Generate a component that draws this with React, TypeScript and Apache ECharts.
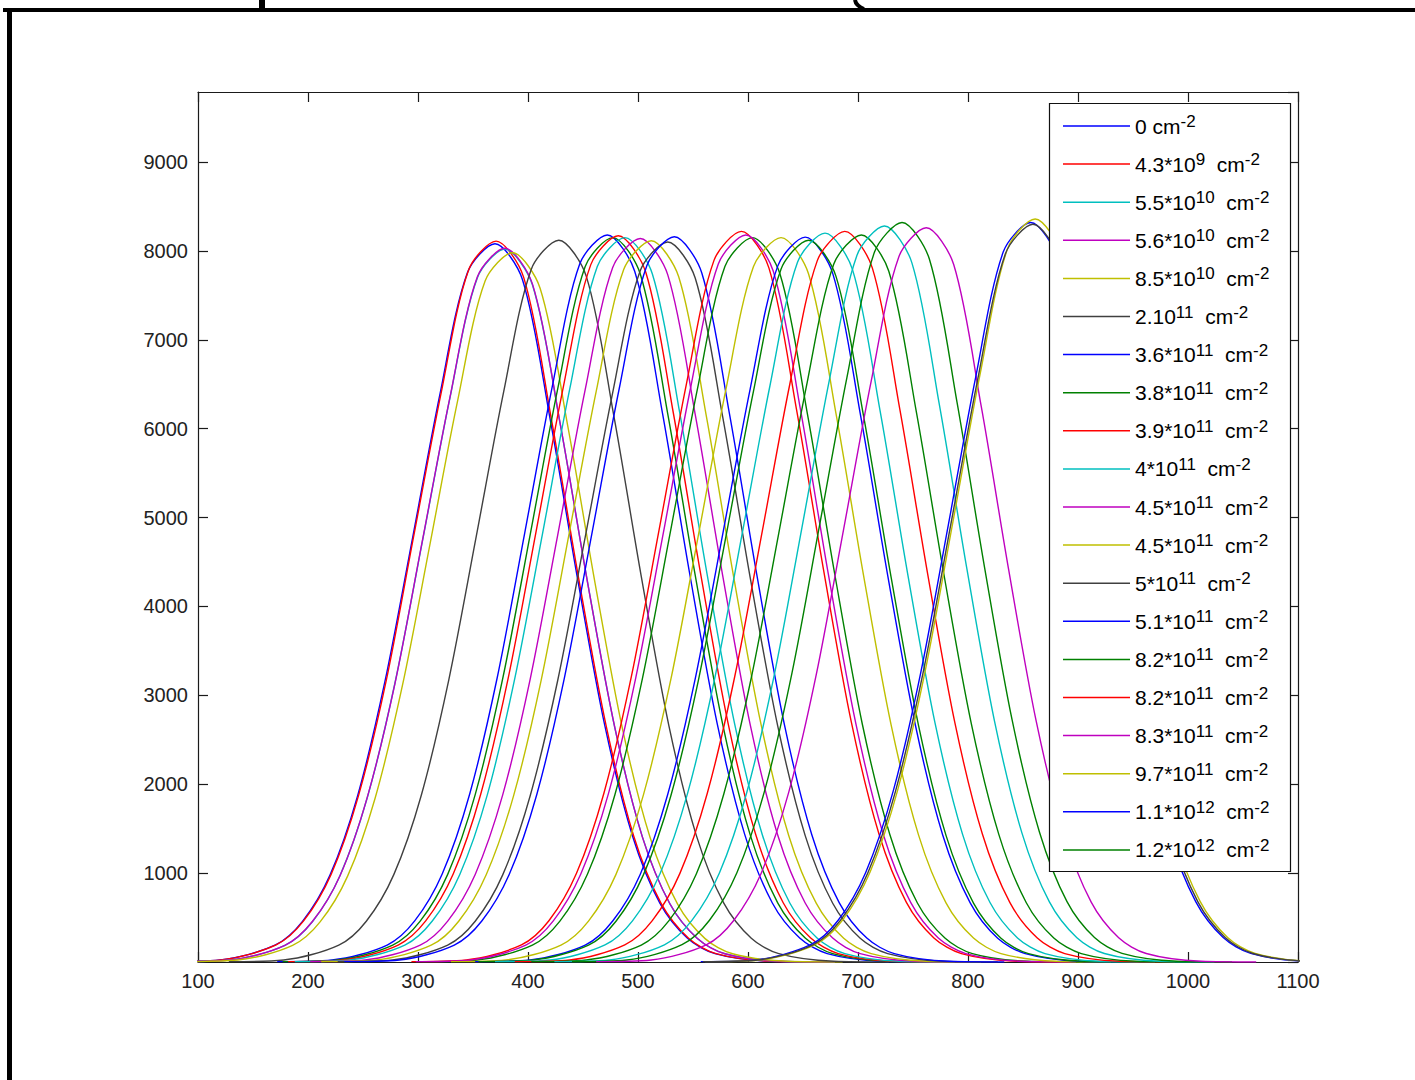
import React, { useEffect, useRef } from "react";
import * as echarts from "echarts";

// x offsets (in channel units) around each curve's peak position
const X_OFFSETS = [-300, -250, -200, -175, -150, -125, -100, -75, -50, -25, 0, 25, 50, 75, 100, 125, 150, 175, 200, 250, 300];

// peak positions (x units)
const PEAK_X = [370, 371, 379, 379, 386, 428, 472, 477, 482, 488, 502, 512, 527, 533, 604, 594, 598, 630, 652, 655, 670, 688, 703, 724, 740, 762, 857, 861, 859];

const LINE_COLORS = [
  "#0000ff", "#ff0000", "#00bfbf", "#bf00bf", "#bfbf00", "#404040", "#0000ff", "#008000", "#ff0000", "#00bfbf",
  "#bf00bf", "#bfbf00", "#404040", "#0000ff", "#008000", "#ff0000", "#bf00bf", "#bfbf00", "#0000ff", "#008000",
  "#00bfbf", "#ff0000", "#008000", "#00bfbf", "#008000", "#bf00bf", "#0000ff", "#bfbf00", "#404040",
];

const LEGEND_BASE = ["0", "4.3*10", "5.5*10", "5.6*10", "8.5*10", "2.10", "3.6*10", "3.8*10", "3.9*10", "4*10", "4.5*10", "4.5*10", "5*10", "5.1*10", "8.2*10", "8.2*10", "8.3*10", "9.7*10", "1.1*10", "1.2*10"];
const LEGEND_EXP = ["", "9", "10", "10", "10", "11", "11", "11", "11", "11", "11", "11", "11", "11", "11", "11", "11", "11", "12", "12"];

const S01 = [4, 23, 189, 457, 978, 1866, 3159, 4767, 6391, 7757, 8080, 7676, 6117, 4315, 2650, 1418, 659, 267, 94, 8, 0];
const S02 = [4, 24, 192, 462, 985, 1875, 3160, 4785, 6400, 7786, 8110, 7705, 6125, 4320, 2660, 1420, 660, 268, 94, 8, 0];
const S03 = [4, 22, 188, 453, 970, 1853, 3136, 4732, 6344, 7699, 8020, 7619, 6071, 4283, 2631, 1408, 654, 265, 93, 8, 0];
const S04 = [4, 22, 187, 455, 968, 1858, 3130, 4740, 6350, 7709, 8030, 7629, 6075, 4280, 2635, 1405, 655, 264, 93, 8, 0];
const S05 = [4, 22, 187, 451, 966, 1843, 3120, 4708, 6312, 7661, 7980, 7581, 6041, 4261, 2617, 1400, 651, 263, 93, 8, 0];
const S06 = [4, 23, 190, 459, 983, 1876, 3175, 4791, 6423, 7795, 8120, 7714, 6147, 4336, 2663, 1425, 663, 268, 94, 8, 0];
const S07 = [4, 23, 191, 462, 990, 1890, 3198, 4826, 6470, 7853, 8180, 7771, 6192, 4368, 2683, 1436, 667, 270, 95, 8, 0];
const S08 = [4, 23, 191, 460, 986, 1883, 3187, 4809, 6447, 7824, 8150, 7743, 6170, 4352, 2673, 1430, 665, 269, 95, 8, 0];
const S09 = [4, 23, 191, 462, 989, 1887, 3194, 4820, 6462, 7843, 8170, 7762, 6185, 4363, 2680, 1434, 667, 270, 95, 8, 0];
const S10 = [4, 23, 190, 461, 985, 1880, 3190, 4805, 6450, 7824, 8150, 7743, 6175, 4350, 2670, 1432, 664, 268, 95, 8, 0];
const S11 = [4, 23, 190, 460, 985, 1880, 3183, 4803, 6439, 7814, 8140, 7733, 6162, 4347, 2670, 1429, 664, 269, 94, 8, 0];
const S12 = [4, 23, 189, 458, 982, 1874, 3172, 4795, 6420, 7790, 8115, 7709, 6150, 4330, 2665, 1424, 662, 267, 94, 8, 0];
const S13 = [4, 23, 190, 458, 980, 1871, 3167, 4779, 6407, 7776, 8100, 7695, 6132, 4325, 2657, 1422, 661, 267, 94, 8, 0];
const S14 = [4, 23, 191, 461, 987, 1885, 3191, 4814, 6455, 7834, 8160, 7752, 6177, 4357, 2676, 1432, 666, 269, 95, 8, 0];
const S15 = [4, 23, 190, 460, 987, 1882, 3188, 4810, 6445, 7824, 8150, 7743, 6168, 4354, 2672, 1431, 664, 269, 95, 8, 0];
const S16 = [4, 23, 192, 464, 995, 1899, 3214, 4850, 6502, 7891, 8220, 7809, 6223, 4389, 2696, 1443, 671, 271, 95, 8, 0];
const S17 = [4, 23, 191, 463, 991, 1889, 3200, 4824, 6472, 7853, 8180, 7771, 6194, 4366, 2684, 1435, 668, 270, 95, 8, 0];
const S18 = [4, 23, 191, 460, 986, 1883, 3187, 4809, 6447, 7824, 8150, 7743, 6170, 4352, 2673, 1430, 665, 269, 95, 8, 0];
const S19 = [4, 23, 190, 461, 985, 1884, 3185, 4812, 6449, 7829, 8155, 7747, 6172, 4350, 2675, 1429, 666, 268, 95, 8, 0];
const S20 = [4, 23, 190, 459, 983, 1876, 3175, 4791, 6423, 7795, 8120, 7714, 6147, 4336, 2663, 1425, 663, 268, 94, 8, 0];
const S21 = [4, 23, 192, 463, 992, 1894, 3206, 4838, 6486, 7872, 8200, 7790, 6207, 4379, 2690, 1439, 669, 271, 95, 8, 0];
const S22 = [4, 23, 192, 465, 994, 1898, 3215, 4848, 6500, 7891, 8220, 7809, 6220, 4390, 2695, 1442, 670, 271, 95, 8, 0];
const S23 = [4, 23, 191, 462, 990, 1890, 3198, 4826, 6470, 7853, 8180, 7771, 6192, 4368, 2683, 1436, 667, 270, 95, 8, 0];
const S24 = [4, 23, 194, 468, 1002, 1913, 3237, 4885, 6549, 7949, 8280, 7866, 6268, 4422, 2716, 1453, 676, 273, 96, 8, 0];
const S25 = [4, 23, 195, 470, 1007, 1922, 3253, 4909, 6581, 7987, 8320, 7904, 6298, 4443, 2729, 1460, 679, 275, 97, 8, 0];
const S26 = [4, 23, 193, 467, 999, 1908, 3230, 4873, 6534, 7930, 8260, 7847, 6253, 4411, 2709, 1450, 674, 273, 96, 8, 0];
const S27 = [4, 23, 195, 470, 1007, 1922, 3253, 4909, 6581, 7987, 8320, 7904, 6298, 4443, 2729, 1460, 679, 275, 97, 8, 0];
const S28 = [4, 23, 196, 472, 1012, 1931, 3269, 4932, 6613, 8026, 8360, 7942, 6329, 4464, 2742, 1467, 682, 276, 97, 8, 0];
const S29 = [4, 23, 194, 469, 1004, 1917, 3245, 4897, 6565, 7968, 8300, 7885, 6283, 4432, 2722, 1457, 677, 274, 96, 8, 0];

const SERIES_VALUES = [S01, S02, S03, S04, S05, S06, S07, S08, S09, S10, S11, S12, S13, S14, S15, S16, S17, S18, S19, S20, S21, S22, S23, S24, S25, S26, S27, S28, S29];

const FONT = "'Liberation Sans', Arial, Helvetica, sans-serif";

export default function App() {
  const ref = useRef<HTMLDivElement>(null);

  useEffect(() => {
    if (!ref.current) return;
    const chart = echarts.init(ref.current, null, { renderer: "svg" });

    const names: string[] = LEGEND_BASE.map((b, i) =>
      LEGEND_EXP[i] ? `${b}^${LEGEND_EXP[i]} cm^-2` : `${b} cm^-2`
    );
    const seen: Record<string, number> = {};
    for (let i = 0; i < names.length; i++) {
      if (seen[names[i]] !== undefined) names[i] = names[i] + " ";
      seen[names[i]] = i;
    }

    const series = SERIES_VALUES.map((vals, k) => ({
      type: "line",
      name: k < names.length ? names[k] : `curve ${k + 1}`,
      data: X_OFFSETS.map((o, i) => [PEAK_X[k] + o, vals[i]]),
      symbol: "none",
      showSymbol: false,
      smooth: 0.3,
      silent: true,
      clip: true,
      lineStyle: { color: LINE_COLORS[k], width: 1.4 },
      itemStyle: { color: LINE_COLORS[k] },
      z: 2,
    }));

    const axisLine = { show: true, onZero: false, lineStyle: { color: "#1a1a1a", width: 1.2 } };
    const axisTick = { show: true, inside: true, length: 10, lineStyle: { color: "#1a1a1a", width: 1.2 } };
    const fmt = (v: number) => String(v);

    chart.setOption({
      animation: false,
      backgroundColor: "#ffffff",
      grid: { left: 198, right: 117, top: 92, bottom: 118, containLabel: false },
      xAxis: [
        {
          type: "value", position: "bottom", min: 100, max: 1100, interval: 100,
          axisLine, axisTick, splitLine: { show: false },
          axisLabel: { show: true, margin: 9, fontSize: 20, fontFamily: FONT, color: "#222", formatter: fmt },
        },
        {
          type: "value", position: "top", min: 100, max: 1100, interval: 100,
          axisLine, axisTick, splitLine: { show: false }, axisLabel: { show: false },
        },
      ],
      yAxis: [
        {
          type: "value", position: "left", min: 0, max: 9788, interval: 1000,
          axisLine, axisTick, splitLine: { show: false },
          axisLabel: { show: true, margin: 10, fontSize: 20, fontFamily: FONT, color: "#222", showMinLabel: false, showMaxLabel: false, formatter: fmt },
        },
        {
          type: "value", position: "right", min: 0, max: 9788, interval: 1000,
          axisLine, axisTick, splitLine: { show: false }, axisLabel: { show: false },
        },
      ],
      legend: {
        data: names,
        orient: "vertical",
        left: 1049,
        top: 104,
        padding: [9, 8, 8, 14],
        icon: "rect",
        itemWidth: 67,
        itemHeight: 1.5,
        itemGap: 12.1,
        itemTextGap: 5,
        selectedMode: false,
        backgroundColor: "transparent",
        borderWidth: 0,
        formatter: (name: string) => {
          const i = names.indexOf(name);
          if (i < 0) return name;
          const b = LEGEND_BASE[i];
          const e = LEGEND_EXP[i];
          return e ? `${b}{sup|${e}}  cm{sup|-2}` : `${b} cm{sup|-2}`;
        },
        textStyle: {
          fontFamily: FONT,
          fontSize: 21,
          color: "#000",
          lineHeight: 26,
          rich: {
            sup: { fontFamily: FONT, fontSize: 17, lineHeight: 16, verticalAlign: "top", color: "#000" },
          },
        },
      },
      graphic: [
        { type: "rect", z: 3, shape: { x: 1049.5, y: 103.5, width: 241, height: 768 }, style: { fill: "#ffffff", stroke: "#111", lineWidth: 1.2 } },
        { type: "rect", z: 10, shape: { x: 7, y: 8, width: 5, height: 1072 }, style: { fill: "#000" } },
        { type: "rect", z: 10, shape: { x: 3, y: 8, width: 1412, height: 4 }, style: { fill: "#000" } },
        { type: "rect", z: 10, shape: { x: 259, y: 0, width: 6, height: 10 }, style: { fill: "#000" } },
        { type: "bezierCurve", z: 10, shape: { x1: 855, y1: 0, x2: 864, y2: 9, cpx1: 856, cpy1: 6 }, style: { stroke: "#000", lineWidth: 4, fill: null } },
      ],
      series,
    });

    return () => chart.dispose();
  }, []);

  return (
    <div style={{ position: "absolute", left: 0, top: 0, width: 1415, height: 1080, background: "#fff" }}>
      <div ref={ref} style={{ width: 1415, height: 1080 }} />
    </div>
  );
}
